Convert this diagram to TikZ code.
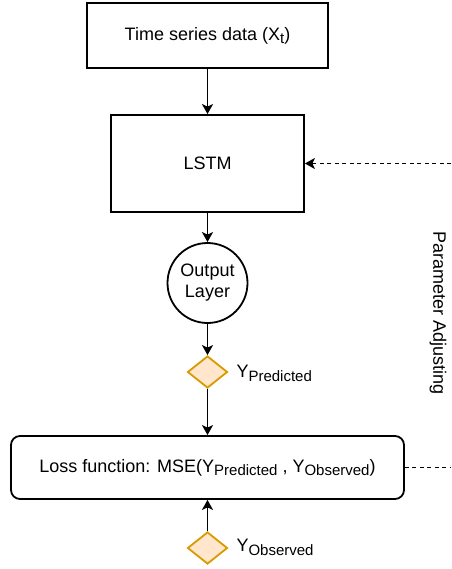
\documentclass[tikz,border=0pt]{standalone}
\usepackage{fontspec}
\setmainfont{Liberation Sans}
\usepackage{tikz}
\usepackage{xcolor}
\usetikzlibrary{arrows.meta, positioning, shapes.geometric}
\definecolor{diaFill}{HTML}{FFE6CC}
\definecolor{diaDraw}{HTML}{D79B00}
\newcommand{\lowsub}[1]{\raisebox{-0.4ex}{\fontsize{15}{15}\selectfont #1}}
\tikzset{
    blockBox/.style={rectangle, draw=black, line width=1.8pt, fill=white, inner sep=0pt},
    outCircle/.style={circle, draw=black, line width=1.8pt, fill=white, inner sep=0pt, minimum size=80pt, align=center},
    valDiamond/.style={diamond, draw=diaDraw, fill=diaFill, line width=1.8pt, inner sep=0pt, minimum width=40pt, minimum height=32pt},
    flowArrow/.style={-{Stealth[length=10pt, width=11pt, inset=2.5pt]}, line width=1.8pt},
    fbLine/.style={line width=1.6pt, dash pattern=on 4pt off 3.5pt}
}

\begin{document}
\begin{tikzpicture}[x=1pt, y=-1pt, font=\fontsize{18}{21}\selectfont]
    \useasboundingbox (0,0) rectangle (451,569);
    % --- forward path ---
    \node[blockBox, minimum width=241pt, minimum height=65pt] (series) at (207.5,35.5) {Time series data (X\lowsub{t})};
    \node[blockBox, minimum width=193pt, minimum height=97pt] (lstm) at (207.5,163.5) {LSTM};
    \node[outCircle] (outlayer) at (207.5,283) {Output\\Layer};
    \node[valDiamond] (pred) at (207.5,372) {};
    \node[anchor=west] (predlbl) at (233,373) {Y\lowsub{Predicted}};
    \node[blockBox, rounded corners=9pt, minimum width=393pt, minimum height=63pt] (loss) at (207.5,467.5) {Loss function: MSE(Y\lowsub{Predicted} , Y\lowsub{Observed})};
    \node[valDiamond] (obs) at (207.5,548) {};
    \node[anchor=west] (obslbl) at (233,547) {Y\lowsub{Observed}};
    \draw[flowArrow] (series) -- (lstm);
    \draw[flowArrow] (lstm) -- (outlayer);
    \draw[flowArrow] (outlayer) -- (pred);
    \draw[flowArrow] (pred) -- (loss);
    \draw[flowArrow] (obs) -- (loss);
    % --- feedback ---
    \coordinate (fbTop) at (451,163.5);
    \coordinate (fbBot) at (451,467.5);
    \draw[fbLine, -{Stealth[length=10pt, width=11pt, inset=2.5pt]}] (fbTop) -- (lstm.east);
    \draw[fbLine] (loss.east) -- (fbBot);
    \node[rotate=-90] (adjust) at (438,313) {Parameter Adjusting};
\end{tikzpicture}
\end{document}
